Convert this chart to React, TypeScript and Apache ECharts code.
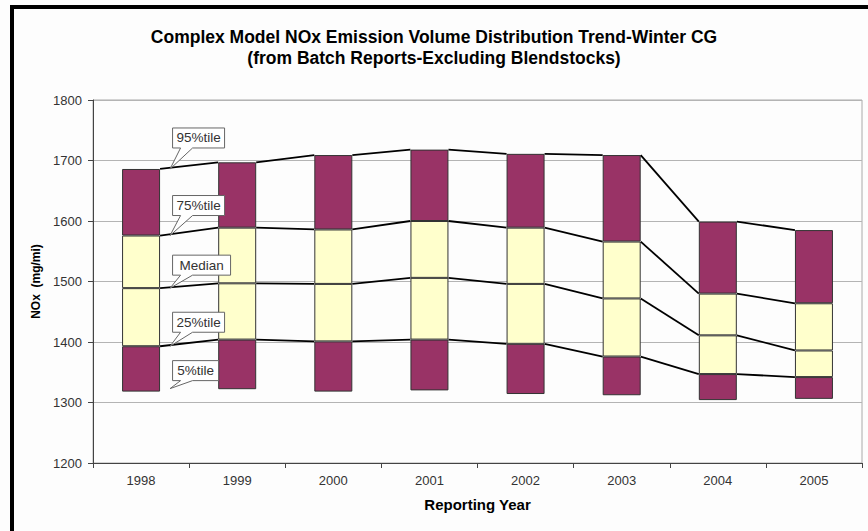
import React, { useEffect, useRef } from "react";
import * as echarts from "echarts";

const years = ["1998", "1999", "2000", "2001", "2002", "2003", "2004", "2005"];
const p95 = [1686, 1697, 1709, 1718, 1711, 1709, 1599, 1585];
const p75 = [1576, 1589, 1586, 1600, 1589, 1566, 1480, 1464];
const median = [1489, 1497, 1496, 1506, 1496, 1472, 1411, 1386];
const p25 = [1393, 1404, 1401, 1404, 1397, 1376, 1347, 1342];
const p5 = [1318, 1322, 1318, 1320, 1314, 1312, 1304, 1306];
const calloutLabels = ["95%tile", "75%tile", "Median", "25%tile", "5%tile"];

const MAROON = "#993366";
const CREAM = "#FFFFCC";
const FONT = "'Liberation Sans', Arial, sans-serif";
const BAR_W = 38;

export default function App() {
  const ref = useRef<HTMLDivElement>(null);

  useEffect(() => {
    if (!ref.current) return;
    const chart = echarts.init(ref.current, null, { renderer: "svg" });

    const diff = (a: number[], b: number[]) => a.map((v, i) => v - b[i]);
    const segStyle = (color: string) => ({
      color,
      borderColor: "#333",
      borderWidth: 1,
    });

    const lineData = years.slice(0, -1).map((_, i) => [
      i,
      p95[i], p95[i + 1],
      p75[i], p75[i + 1],
      median[i], median[i + 1],
      p25[i], p25[i + 1],
    ]);

    chart.setOption({
      animation: false,
      backgroundColor: "#fdfdfd",
      title: {
        text: "Complex Model NOx Emission Volume Distribution Trend-Winter CG\n(from Batch Reports-Excluding Blendstocks)",
        left: "center",
        top: 21,
        textStyle: {
          fontFamily: FONT,
          fontSize: 17.5,
          fontWeight: "bold",
          color: "#000",
          lineHeight: 21,
          align: "center",
        },
      },
      grid: {
        left: 93,
        top: 100,
        width: 769,
        height: 363,
        show: true,
        borderColor: "#aaaaaa",
        borderWidth: 1,
        backgroundColor: "transparent",
      },
      xAxis: {
        type: "category",
        data: years,
        name: "Reporting Year",
        nameLocation: "middle",
        nameGap: 34,
        nameTextStyle: { fontFamily: FONT, fontSize: 15, fontWeight: "bold", color: "#000" },
        axisLine: { lineStyle: { color: "#444", width: 1 } },
        axisTick: { show: true, length: 5, lineStyle: { color: "#444" } },
        axisLabel: { fontFamily: FONT, fontSize: 13, color: "#333", margin: 11 },
        splitLine: { show: false },
      },
      yAxis: {
        type: "value",
        min: 1200,
        max: 1800,
        interval: 100,
        name: "NOx  (mg/mi)",
        nameLocation: "middle",
        nameGap: 45,
        nameTextStyle: { fontFamily: FONT, fontSize: 12, fontWeight: "bold", color: "#000" },
        axisLine: { show: true, lineStyle: { color: "#444", width: 1 } },
        axisTick: { show: true, length: 5, lineStyle: { color: "#444" } },
        axisLabel: {
          fontFamily: FONT,
          fontSize: 13,
          color: "#333",
          margin: 11,
          formatter: (v: number) => String(v),
        },
        splitLine: { show: true, lineStyle: { color: "#b4b4b4", width: 1 } },
      },
      series: [
        {
          name: "base",
          type: "bar",
          stack: "box",
          barWidth: BAR_W,
          data: p5,
          itemStyle: { color: "transparent", borderWidth: 0 },
          silent: true,
        },
        { name: "5-25", type: "bar", stack: "box", barWidth: BAR_W, data: diff(p25, p5), itemStyle: segStyle(MAROON) },
        { name: "25-50", type: "bar", stack: "box", barWidth: BAR_W, data: diff(median, p25), itemStyle: segStyle(CREAM) },
        { name: "50-75", type: "bar", stack: "box", barWidth: BAR_W, data: diff(p75, median), itemStyle: segStyle(CREAM) },
        { name: "75-95", type: "bar", stack: "box", barWidth: BAR_W, data: diff(p95, p75), itemStyle: segStyle(MAROON) },
        {
          name: "series lines",
          type: "custom",
          data: lineData,
          encode: { x: 0, y: [1, 2, 3, 4, 5, 6, 7, 8] },
          z: 5,
          renderItem: (params: any, api: any) => {
            const i = api.value(0);
            const half = BAR_W / 2;
            const children: any[] = [];
            for (let k = 0; k < 4; k++) {
              const a = api.coord([i, api.value(1 + 2 * k)]);
              const b = api.coord([i + 1, api.value(2 + 2 * k)]);
              children.push({
                type: "line",
                shape: { x1: a[0] + half, y1: a[1], x2: b[0] - half, y2: b[1] },
                style: { stroke: "#000", lineWidth: 1.8 },
              });
            }
            return { type: "group", children };
          },
        },
      ],
    });

    // Callouts anchored on the 1998 bar
    const anchors = [p95[0], p75[0], median[0], p25[0], p5[0]];
    const boxOffsets = [-41, -40, -33, -34, -28];
    const tipAdjust = [0, 0, 0, 0, -3];
    const boxWidths = [52, 52, 58, 52, 46];
    const elements: any[] = [
      { type: "rect", id: "frameTop", shape: { x: 10, y: 5, width: 858, height: 4 }, style: { fill: "#000" }, z: 100 },
      { type: "rect", id: "frameLeft", shape: { x: 10, y: 5, width: 4, height: 526 }, style: { fill: "#000" }, z: 100 },
    ];
    anchors.forEach((v, k) => {
      const p = chart.convertToPixel({ xAxisIndex: 0, yAxisIndex: 0 }, [0, v]) as number[];
      const tipX = p[0] + BAR_W / 2 + 10;
      const tipY = p[1] + tipAdjust[k];
      const x0 = tipX + 2.5;
      const x1 = x0 + boxWidths[k];
      const y0 = tipY + boxOffsets[k];
      const y1 = y0 + 20;
      elements.push({
        type: "polygon",
        id: "callout" + k,
        z: 50,
        shape: {
          points: [
            [x0, y0], [x1, y0], [x1, y1], [x0 + 20, y1], [tipX, tipY], [x0 + 8, y1], [x0, y1],
          ],
        },
        style: { fill: "#ffffff", stroke: "#666", lineWidth: 1 },
      });
      elements.push({
        type: "text",
        id: "calloutText" + k,
        z: 51,
        x: (x0 + x1) / 2,
        y: (y0 + y1) / 2,
        style: {
          text: calloutLabels[k],
          fontFamily: FONT,
          fontSize: 13.5,
          fill: "#333",
          align: "center",
          verticalAlign: "middle",
        },
      });
    });
    chart.setOption({ graphic: { elements } });

    return () => chart.dispose();
  }, []);

  return (
    <div
      ref={ref}
      style={{ position: "absolute", left: 0, top: 0, width: 868, height: 531 }}
    />
  );
}
